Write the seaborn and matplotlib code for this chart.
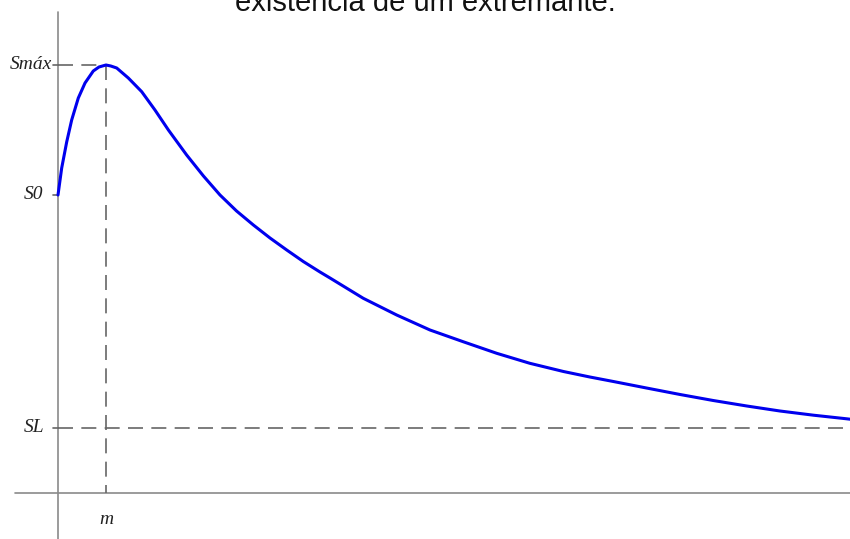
import numpy as np
import pandas as pd
import seaborn as sns
import matplotlib
matplotlib.use("Agg")
import matplotlib.pyplot as plt

# curve (x in units of m, y in arbitrary units)
curve_x = [0.0, 0.077, 0.181, 0.285, 0.423, 0.563, 0.735, 0.854, 1.0, 1.1, 1.223, 1.465, 1.744,
           2.02, 2.30, 2.68, 3.03, 3.375, 3.72, 4.07, 4.417, 4.765, 5.11, 5.458,
           5.667, 6.36, 7.056, 7.75, 8.44, 9.14, 9.83, 10.53, 11.08, 11.57,
           12.26, 12.96, 13.65, 14.35, 15.04, 15.74, 16.43, 16.5]
curve_y = [2.98, 3.25, 3.51, 3.73, 3.95, 4.10, 4.22, 4.26, 4.28, 4.27, 4.25, 4.15, 4.013,
           3.83, 3.63, 3.38, 3.17, 2.98, 2.82, 2.68, 2.55, 2.43, 2.315, 2.21,
           2.15, 1.947, 1.78, 1.63, 1.513, 1.397, 1.297, 1.215, 1.16, 1.115,
           1.05, 0.985, 0.925, 0.87, 0.82, 0.778, 0.742, 0.738]

m = 1.0
S0 = 2.98
Smax = 4.28
SL = 0.65

df = pd.DataFrame({"t": curve_x, "S": curve_y})

sns.set_style("white")
fig = plt.figure(figsize=(8.5, 5.39), dpi=100)
ax = fig.add_axes([0, 0, 1, 1])
ax.set_xlim(-58 / 48, 16.5)
ax.set_ylim(-0.46, 4.93)
ax.set_axis_off()

axis_col = "#8a8a8a"
dash_col = "#666666"

# axes drawn by hand
ax.plot([-0.9, 16.5], [0, 0], color=axis_col, lw=1.2)
ax.plot([0, 0], [-0.46, 4.81], color=axis_col, lw=1.2)

# dashed guides
dashes = (9, 5)
ax.plot([0, m], [Smax, Smax], color=dash_col, lw=1.2, dashes=dashes)
ax.plot([m, m], [Smax, 0], color=dash_col, lw=1.2, dashes=dashes)
ax.plot([0, 16.5], [SL, SL], color=dash_col, lw=1.2, dashes=dashes)

# little ticks on the vertical axis
for v in [Smax, S0, SL]:
    ax.plot([-0.1, 0], [v, v], color=dash_col, lw=1.2)

sns.lineplot(data=df, x="t", y="S", ax=ax, color="#0000ee", lw=2.2, sort=False,
             solid_joinstyle="round", solid_capstyle="round")

lab = dict(family="Liberation Serif", style="italic", fontsize=14, color="#222222")
ax.text(-0.12, Smax, "Smáx", ha="right", va="center", **lab)
ax.text(-0.3, S0, "S0", ha="right", va="center", **lab)
ax.text(-0.28, SL, "SL", ha="right", va="center", **lab)
ax.text(m, -0.26, "m", ha="center", va="center", **lab)

fig.text(0.5, 1 - 11 / 539, "existência de um extremante.", ha="center", va="baseline",
         family="Liberation Sans", fontsize=21, color="#111111")

fig.savefig("out.png", dpi=100)
